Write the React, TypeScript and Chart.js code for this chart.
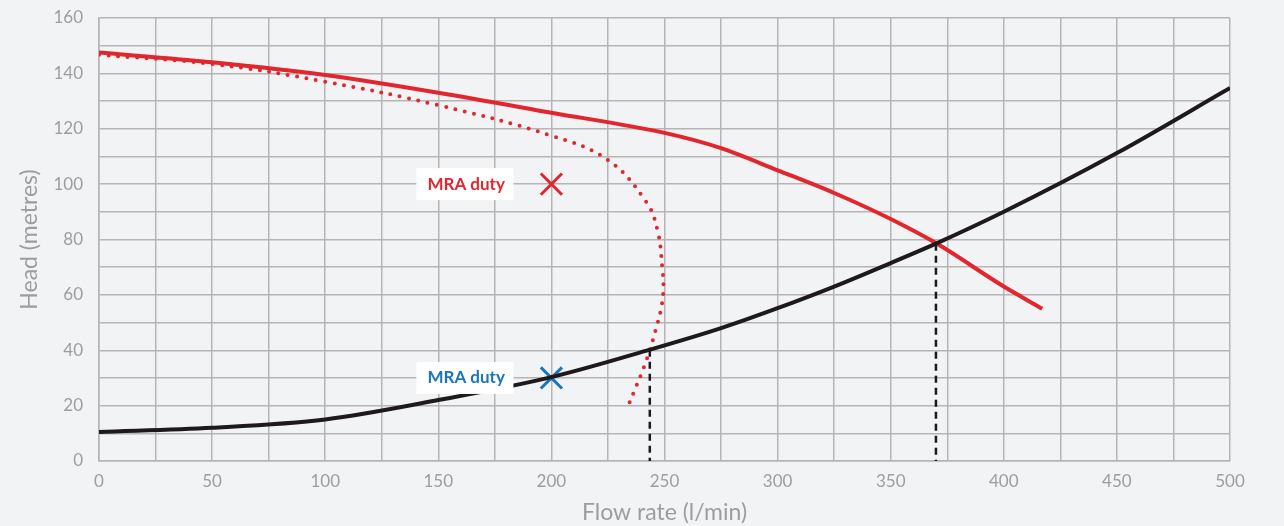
import React, { useEffect, useRef } from "react";
import { Chart, registerables } from "chart.js";

Chart.register(...registerables);

const pumpFlow = [0, 50, 100, 150, 200, 250, 275, 300, 325, 350, 370, 400, 417];
const pumpHead = [147.5, 144, 139.4, 133, 125.8, 118.5, 113, 105, 96.8, 87.4, 78.7, 63, 55];

const dottedFlow = [0, 50, 100, 150, 200, 225, 242, 247, 249, 249.5, 248.5, 246, 243.5, 240, 237, 234];
const dottedHead = [146.7, 143.4, 137, 128.5, 117.5, 108.7, 93.5, 83, 70, 62, 55, 47, 40, 32, 26, 20];

const systemFlow = [0, 50, 100, 150, 200, 243.5, 275, 300, 325, 350, 370, 400, 450, 500];
const systemHead = [10.5, 12, 15, 22, 30.3, 40.2, 48, 55.2, 63, 71.5, 78.5, 90, 111.2, 134.7];

const dutyLines = [
  { x: 243.5, y: 40.2 },
  { x: 370, y: 78.5 },
];

const dutyPoints = [
  { x: 200, y: 100, label: "MRA duty", color: "#e3262e" },
  { x: 200, y: 30, label: "MRA duty", color: "#1b75bc" },
];

const xTicksMax = 500;
const yTicksMax = 160;

const RED = "#e3262e";
const BLACK = "#1e1a1b";
const GRID = "#b5b5b5";
const TEXT = "#9d9d9d";
const FONT = "Lato, 'Open Sans', sans-serif";

const toPts = (xs: number[], ys: number[]) => xs.map((x, i) => ({ x, y: ys[i] }));

const labelPlugin = {
  id: "dutyLabels",
  afterDatasetsDraw(chart: any) {
    const { ctx, scales } = chart;
    ctx.save();
    dutyPoints.forEach((p) => {
      const px = scales.x.getPixelForValue(p.x);
      const py = scales.y.getPixelForValue(p.y);
      const w = 97;
      const h = 32;
      const right = px - 38;
      ctx.fillStyle = "#ffffff";
      ctx.fillRect(right - w, py - h / 2, w, h);
      ctx.fillStyle = p.color;
      ctx.font = `bold 17px ${FONT}`;
      ctx.textAlign = "left";
      ctx.textBaseline = "middle";
      ctx.fillText(p.label, right - w + 11, py);
    });
    ctx.restore();
  },
};

export default function App() {
  const ref = useRef<HTMLCanvasElement | null>(null);

  useEffect(() => {
    document.body.style.margin = "0";
    document.body.style.background = "#f2f3f5";
    if (!ref.current) return;
    const datasets: any[] = [];
    dutyLines.forEach((d) => {
      datasets.push({
        data: [
          { x: d.x, y: d.y },
          { x: d.x, y: 0 },
        ],
        borderColor: BLACK,
        borderWidth: 2.5,
        borderDash: [7, 5],
        pointRadius: 0,
        tension: 0,
      });
    });
    datasets.push({
      data: toPts(systemFlow, systemHead),
      borderColor: BLACK,
      borderWidth: 4,
      pointRadius: 0,
      tension: 0.4,
      cubicInterpolationMode: "monotone",
    });
    datasets.push({
      data: toPts(pumpFlow, pumpHead),
      borderColor: RED,
      borderWidth: 4,
      pointRadius: 0,
      tension: 0.4,
      cubicInterpolationMode: "monotone",
    });
    datasets.push({
      data: toPts(dottedFlow, dottedHead),
      borderColor: RED,
      borderWidth: 4,
      borderDash: [0, 9.5],
      borderCapStyle: "round",
      pointRadius: 0,
      tension: 0.4,
    });
    dutyPoints.forEach((p) => {
      datasets.push({
        data: [{ x: p.x, y: p.y }],
        showLine: false,
        pointStyle: "crossRot",
        pointRadius: 15,
        pointBorderWidth: 3,
        pointBorderColor: p.color,
        borderColor: p.color,
      });
    });

    const chart = new Chart(ref.current, {
      type: "line",
      data: { datasets },
      plugins: [labelPlugin],
      options: {
        animation: false,
        responsive: false,
        layout: { padding: { top: 18, right: 54, left: 0, bottom: 0 } },
        plugins: { legend: { display: false }, tooltip: { enabled: false } },
        scales: {
          x: {
            type: "linear",
            min: 0,
            max: xTicksMax,
            ticks: {
              stepSize: 25,
              color: TEXT,
              font: { family: FONT, size: 17 },
              padding: 10,
              maxRotation: 0,
              autoSkip: false,
              callback: (v: any) => (Number(v) % 50 === 0 ? String(v) : ""),
            },
            grid: { color: GRID, lineWidth: 1.5, drawTicks: false },
            border: { color: GRID, width: 1.5 },
            title: {
              display: true,
              text: "Flow rate (l/min)",
              color: TEXT,
              font: { family: FONT, size: 23 },
              padding: { top: 0, bottom: 0 },
            },
            afterFit: (s: any) => {
              s.height = 65;
              s.paddingLeft = 0;
              s.paddingRight = 0;
            },
          },
          y: {
            min: 0,
            max: yTicksMax,
            ticks: {
              stepSize: 10,
              color: TEXT,
              font: { family: FONT, size: 17 },
              padding: 16,
              autoSkip: false,
              callback: (v: any) => (Number(v) % 20 === 0 ? String(v) : ""),
            },
            grid: { color: GRID, lineWidth: 1.5, drawTicks: false },
            border: { color: GRID, width: 1.5 },
            title: {
              display: true,
              text: "Head (metres)",
              color: TEXT,
              font: { family: FONT, size: 23 },
              padding: { top: 16, bottom: 0 },
            },
            afterFit: (s: any) => {
              s.width = 99;
              s.paddingTop = 0;
              s.paddingBottom = 0;
            },
          },
        },
      },
    });
    return () => chart.destroy();
  }, []);

  return (
    <div style={{ width: 1284, height: 526, background: "#f2f3f5" }}>
      <canvas ref={ref} width={1284} height={526} style={{ display: "block" }} />
    </div>
  );
}
